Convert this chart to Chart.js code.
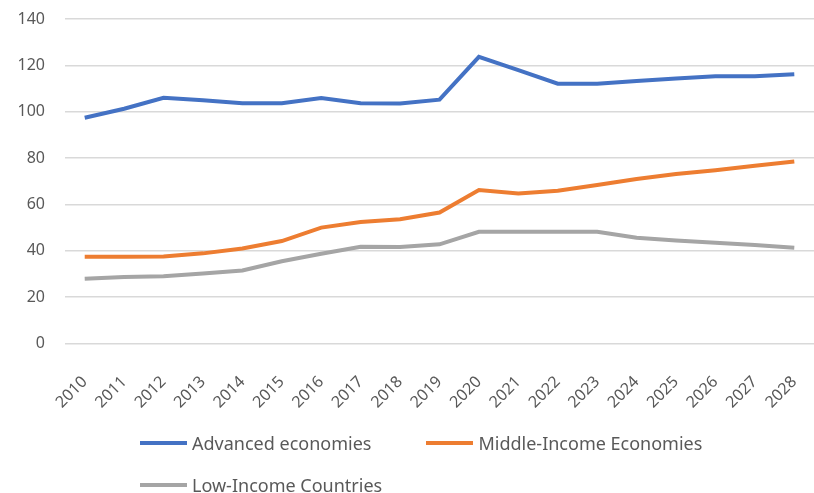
<!DOCTYPE html>
<html>
<head>
<meta charset="utf-8">
<script src="https://cdn.jsdelivr.net/npm/chart.js@4/dist/chart.umd.min.js"></script>
<style>
    body { margin: 0; background: #fff; }
    .wrap { position: relative; width: 814px; height: 493px; }
    #legend {
        position: absolute; left: 140px; top: 431px; width: 600px;
        display: flex; flex-wrap: wrap; column-gap: 55px; row-gap: 18px;
        font-family: 'Noto Sans', sans-serif; font-size: 18px; color: #595959;
    }
    #legend .item { display: flex; align-items: center; line-height: 24px; }
    #legend .swatch { width: 47px; height: 4px; margin-right: 5px; }
</style>
</head>
<body>
<div class="wrap">
    <canvas id="chart" width="814" height="493"></canvas>
    <div id="legend"></div>
</div>
<script>
// Debt (% of GDP) by country group, 2010-2028
const years = ['2010', '2011', '2012', '2013', '2014', '2015', '2016', '2017', '2018', '2019',
    '2020', '2021', '2022', '2023', '2024', '2025', '2026', '2027', '2028'];

const advanced = [97.4, 101.3, 106, 104.9, 103.7, 103.7, 105.9, 103.7, 103.5, 105.2,
    123.7, 117.9, 112.1, 112.1, 113.3, 114.3, 115.3, 115.3, 116.2];
const middleIncome = [37.4, 37.4, 37.6, 38.9, 41, 44.2, 50, 52.4, 53.6, 56.5,
    66.2, 64.7, 65.9, 68.4, 71, 73.1, 74.8, 76.7, 78.5];
const lowIncome = [28, 28.7, 29, 30.2, 31.5, 35.5, 38.7, 41.7, 41.6, 42.8,
    48.2, 48.2, 48.2, 48.2, 45.6, 44.5, 43.5, 42.5, 41.3];

const yTicks = [0, 20, 40, 60, 80, 100, 120, 140];

const textColor = '#595959';
const gridColor = '#d9d9d9';

function series(label, data, color) {
    return {
        label: label,
        data: data,
        borderColor: color,
        backgroundColor: color,
        borderWidth: 4,
        pointRadius: 0,
        tension: 0,
        fill: false
    };
}

const chart = new Chart(document.getElementById('chart'), {
    type: 'line',
    data: {
        labels: years,
        datasets: [
            series('Advanced economies', advanced, '#4472C4'),
            series('Middle-Income Economies', middleIncome, '#ED7D31'),
            series('Low-Income Countries', lowIncome, '#A5A5A5')
        ]
    },
    options: {
        responsive: false,
        animation: false,
        layout: {
            padding: { top: 0, left: 15, right: 0, bottom: 52 }
        },
        plugins: {
            legend: { display: false },
            tooltip: { enabled: false }
        },
        scales: {
            x: {
                offset: true,
                grid: { display: false, drawTicks: false },
                border: { display: false },
                ticks: {
                    color: textColor,
                    font: { family: "'Noto Sans', sans-serif", size: 16 },
                    minRotation: 45,
                    maxRotation: 45,
                    autoSkip: false,
                    padding: 29
                },
                // rotated labels should not push the plot area inward
                afterFit: (scale) => {
                    scale.paddingLeft = 0;
                    scale.paddingRight = 0;
                }
            },
            y: {
                min: 0,
                max: 140,
                afterBuildTicks: (axis) => {
                    axis.ticks = yTicks.map(v => ({ value: v }));
                },
                afterFit: (scale) => {
                    scale.width = 50;
                    scale.paddingTop = 19;
                    scale.paddingBottom = 0;
                },
                grid: { color: gridColor, lineWidth: 1.5, drawTicks: false },
                border: { display: false },
                ticks: {
                    color: textColor,
                    font: { family: "'Noto Sans', sans-serif", size: 16 },
                    padding: 20
                }
            }
        }
    }
});

// legend built from the chart's datasets
const legendEl = document.getElementById('legend');
chart.data.datasets.forEach(ds => {
    const item = document.createElement('div');
    item.className = 'item';
    const sw = document.createElement('span');
    sw.className = 'swatch';
    sw.style.background = ds.borderColor;
    const txt = document.createElement('span');
    txt.textContent = ds.label;
    item.appendChild(sw);
    item.appendChild(txt);
    legendEl.appendChild(item);
});
</script>
</body>
</html>
